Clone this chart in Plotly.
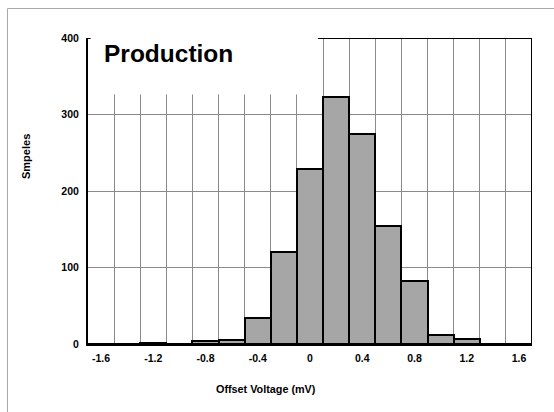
import plotly.graph_objects as go

# Data
bin_centers = [-1.6, -1.4, -1.2, -1.0, -0.8, -0.6, -0.4, -0.2, 0.0, 0.2, 0.4, 0.6, 0.8, 1.0, 1.2, 1.4, 1.6]
counts = [0, 0, 1, 0, 4, 5, 34, 120, 229, 323, 275, 154, 83, 12, 7, 0, 0]
x_tick_vals = [-1.6, -1.2, -0.8, -0.4, 0.0, 0.4, 0.8, 1.2, 1.6]
x_tick_text = ["-1.6", "-1.2", "-0.8", "-0.4", "0", "0.4", "0.8", "1.2", "1.6"]
y_tick_vals = [0, 100, 200, 300, 400]

FONT = "Liberation Sans, Arial, sans-serif"

fig = go.Figure()
fig.add_trace(go.Bar(
    x=bin_centers, y=counts, width=0.2,
    marker=dict(color="#a6a6a6", line=dict(color="black", width=2)),
))

fig.update_layout(
    width=554, height=412,
    margin=dict(l=88, r=22, t=38, b=68),
    paper_bgcolor="white", plot_bgcolor="white",
    showlegend=False, bargap=0,
    font=dict(family=FONT, color="black"),
    xaxis=dict(
        range=[-1.7, 1.7], tickmode="array", tickvals=x_tick_vals, ticktext=x_tick_text,
        showgrid=False, showline=True, linecolor="black", linewidth=2,
        zeroline=False, ticks="", ticklen=0, ticklabelstandoff=3,
        tickfont=dict(family=FONT, size=10.5, color="black", weight="bold"),
        minor=dict(tick0=-1.5, dtick=0.2, showgrid=True, gridcolor="#8a8a8a", gridwidth=1, ticks=""),
    ),
    yaxis=dict(
        range=[0, 400], tickmode="array", tickvals=y_tick_vals,
        showgrid=True, gridcolor="#8a8a8a", gridwidth=1,
        showline=True, linecolor="black", linewidth=2,
        zeroline=False, ticks="", ticklabelstandoff=5,
        tickfont=dict(family=FONT, size=10.5, color="black", weight="bold"),
    ),
    shapes=[
        # white box behind the title
        dict(type="rect", xref="x", yref="y", x0=-1.7, x1=0.076, y0=326, y1=400,
             fillcolor="white", line=dict(width=0), layer="between"),
        # top border (partial) and right border
        dict(type="line", xref="x", yref="y", x0=0.06, x1=1.7, y0=400, y1=400,
             line=dict(color="black", width=2), layer="above"),
        dict(type="line", xref="x", yref="y", x0=1.7, x1=1.7, y0=0, y1=400,
             line=dict(color="black", width=2), layer="above"),
        dict(type="line", xref="x", yref="y", x0=-1.7, x1=-1.68, y0=400, y1=400,
             line=dict(color="black", width=2), layer="above"),
        # outer frame
        dict(type="path", xref="paper", yref="paper",
             path="M -0.1813 -0.3 L -0.1813 1.0964 L 1.2 1.0964",
             line=dict(color="#a8a8a8", width=1), layer="above"),
    ],
    annotations=[
        dict(text="Production", xref="paper", yref="paper", x=(102 - 88) / 444, y=(344 - 63) / 306,
             xanchor="left", yanchor="bottom", showarrow=False, yshift=-6,
             font=dict(family=FONT, size=24.5, color="black", weight="bold")),
        dict(text="Smpeles", xref="paper", yref="paper", x=(25.5 - 88) / 444, y=(344 - 156.5) / 306,
             xanchor="center", yanchor="middle", textangle=-90, showarrow=False,
             font=dict(family=FONT, size=11, color="black", weight="bold")),
        dict(text="Offset Voltage (mV)", xref="paper", yref="paper", x=(265.5 - 88) / 444,
             y=(344 - 389) / 306, xanchor="center", yanchor="middle", showarrow=False,
             font=dict(family=FONT, size=10.8, color="black", weight="bold")),
    ],
)

fig.write_html("out.html")
